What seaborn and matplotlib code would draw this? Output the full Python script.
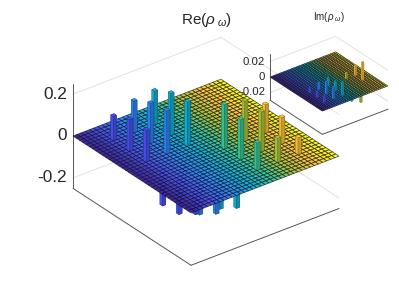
import matplotlib
matplotlib.use("Agg")
import matplotlib.pyplot as plt
import numpy as np
import seaborn as sns
from matplotlib.colors import to_rgb
from matplotlib.transforms import IdentityTransform
from mpl_toolkits.mplot3d import proj3d

sns.set_theme(style="white")
plt.rcParams["font.family"] = ["Liberation Sans", "DejaVu Sans"]
plt.rcParams.update({"mathtext.fontset": "custom", "mathtext.rm": "Liberation Sans",
                     "mathtext.it": "Liberation Sans:italic", "mathtext.fallback": "cm"})

# ---- data -----------------------------------------------------------------
cells = 36
lattice = [5, 10, 15, 20, 25, 30]
re_rows = [
    [0.115, 0.150, 0.160, -0.16, -0.15, -0.10],
    [0.150, 0.190, 0.200, -0.15, -0.19, -0.135],
    [0.150, 0.205, 0.210, -0.15, -0.20, -0.145],
    [-0.160, -0.150, -0.150, 0.210, 0.190, 0.135],
    [-0.150, -0.190, -0.200, 0.190, 0.190, 0.125],
    [-0.100, -0.135, -0.145, 0.130, 0.115, 0.080],
]
im_rows = [
    [0.0, 0.0, 0.0, -0.006, -0.008, -0.008],
    [0.0, 0.0, 0.0, -0.009, -0.016, -0.015],
    [0.0, 0.0, 0.0, -0.010, -0.012, -0.017],
    [0.006, 0.009, 0.010, 0.0, 0.008, 0.013],
    [0.008, 0.016, 0.012, -0.008, 0.0, 0.023],
    [0.008, 0.015, 0.017, -0.012, -0.018, 0.0],
]
re_ticks = [-0.2, 0, 0.2]
re_labels = ["-0.2", "0", "0.2"]
im_ticks = [-0.02, 0, 0.02]
im_labels = ["-0.02", "0", "0.02"]
parula_anchors = ["#3e26a8", "#4853f4", "#2e87f7", "#12b1d6", "#37c897", "#abc739",
                  "#fec338", "#f9fb14"]
column_colors = sns.blend_palette(parula_anchors, n_colors=cells)

fig = plt.figure(figsize=(3.99, 2.99), dpi=100, facecolor="white")
W, H = 399, 299


def bar_faces(rgb):
    c = np.array(to_rgb(rgb))
    # bottom, top, -y, +y, -x, +x
    return [c, c, c * 0.95, c * 0.8, c, c * 0.78]


def panel(rows, zmax, ticks, labels, left, right, title, title_xy, title_fs, tick_fs,
          edge_lw, edge_alpha, bar_lw, tick_gap):
    ax = fig.add_axes([0, 0, 1, 1], projection="3d", proj_type="ortho", computed_zorder=False)
    ax.patch.set_alpha(0)
    ax.set_axis_off()
    ax.view_init(elev=30, azim=-37.5)
    ax.set_xlim(0, cells)
    ax.set_ylim(0, cells)
    ax.set_zlim(-zmax, zmax)
    aspect = (194, 186.6, 121)

    def px(x, y, z):
        X, Y, _ = proj3d.proj_transform(x, y, z, ax.get_proj())
        ax.apply_aspect()
        a, b = ax.transData.transform((X, Y))
        return a, H - b

    zoom, pos = 1.0, [0.0, 0.0]
    for _ in range(4):
        ax.set_box_aspect(aspect, zoom=zoom)
        ax.set_position([pos[0], pos[1], 1, 1])
        a = px(0, 0, 0)
        b = px(cells, cells, 0)
        zoom *= (right[0] - left[0]) / (b[0] - a[0])
        ax.set_box_aspect(aspect, zoom=zoom)
        a = px(0, 0, 0)
        pos[0] += (left[0] - a[0]) / W
        pos[1] -= (left[1] - a[1]) / H
        ax.set_position([pos[0], pos[1], 1, 1])

    # walls
    for t in ticks:
        if t != 0:
            ax.plot([0, 0], [0, cells], [t, t], color="#dddddd", lw=0.6, zorder=1)
            ax.plot([0, cells], [cells, cells], [t, t], color="#dddddd", lw=0.6, zorder=1)
    ax.plot([0, cells], [0, 0], [-zmax, -zmax], color="#555555", lw=0.7, zorder=1)
    ax.plot([cells, cells], [0, cells], [-zmax, -zmax], color="#555555", lw=0.7, zorder=1)
    ax.plot([0, 0], [0, 0], [-zmax, zmax], color="#555555", lw=0.7, zorder=1)

    items = []
    for i, row in enumerate(rows):
        for j, v in enumerate(row):
            if v != 0:
                items.append((lattice[i], lattice[j], v))
    depth = lambda it: 0.793 * it[0] - 0.609 * it[1]
    z = 2
    for it in sorted([q for q in items if q[2] < 0], key=depth):
        ax.bar3d(it[0] + 0.1, it[1] + 0.1, it[2], 0.8, 0.8, -it[2],
                 color=bar_faces(column_colors[it[1]]), edgecolor=(0, 0, 0, 0.45),
                 linewidth=bar_lw, shade=False, zorder=z)
        z += 1
    X, Y = np.meshgrid(np.arange(cells + 1), np.arange(cells + 1))
    face = np.array([[(*column_colors[r], 1.0)] * cells for r in range(cells)])
    surf = ax.plot_surface(X, Y, np.zeros_like(X, dtype=float), facecolors=face, shade=False,
                           rcount=cells + 1, ccount=cells + 1, linewidth=edge_lw, zorder=z)
    surf.set_edgecolor((0.05, 0.05, 0.1, edge_alpha))
    z += 1
    for it in sorted([q for q in items if q[2] > 0], key=depth):
        ax.bar3d(it[0] + 0.1, it[1] + 0.1, 0, 0.8, 0.8, it[2],
                 color=bar_faces(column_colors[it[1]]), edgecolor=(0, 0, 0, 0.45),
                 linewidth=bar_lw, shade=False, zorder=z)
        z += 1

    for t, lab in zip(ticks, labels):
        a = px(0, 0, t)
        fig.text(a[0] - tick_gap, H - a[1], lab, transform=IdentityTransform(), ha="right",
                 va="center", fontsize=tick_fs, color="#262626")
    fig.text(title_xy[0], H - title_xy[1], title, transform=IdentityTransform(), ha="center",
             va="center", fontsize=title_fs, color="#262626")


panel(re_rows, 0.25, re_ticks, re_labels, (73, 136), (339, 158), r"Re($\rho_{\ \omega}$)",
      (207, 20), 11, 12.4, 0.55, 0.7, 0.2, 6)
panel(im_rows, 0.03, im_ticks, im_labels, (270, 77), (388, 85), r"Im($\rho_{\ \omega}$)",
      (329, 17), 7, 8.2, 0.42, 0.8, 0.12, 5)

fig.savefig("out.png", dpi=100)
